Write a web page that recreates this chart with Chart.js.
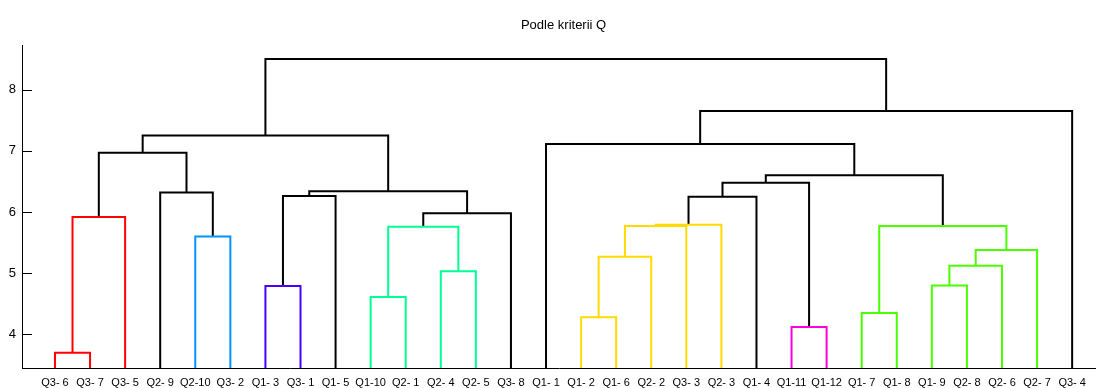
<!DOCTYPE html>
<html><head><meta charset="utf-8">
<script src="https://cdn.jsdelivr.net/npm/chart.js@4.4.1/dist/chart.umd.min.js"></script>
<style>html,body{margin:0;padding:0;background:#fff;overflow:hidden}#wrap{width:1096px;height:388px;position:relative}</style>
</head><body><div id="wrap"><canvas id="c" width="1096" height="388"></canvas></div>
<script>
// ---- data ----
const leafLabels = ['Q3- 6','Q3- 7','Q3- 5','Q2- 9','Q2-10','Q3- 2','Q1- 3','Q3- 1','Q1- 5','Q1-10','Q2- 1','Q2- 4','Q2- 5','Q3- 8','Q1- 1','Q1- 2','Q1- 6','Q2- 2','Q3- 3','Q2- 3','Q1- 4','Q1-11','Q1-12','Q1- 7','Q1- 8','Q1- 9','Q2- 8','Q2- 6','Q2- 7','Q3- 4'];
// linkage: node ids 0..29 are leaves, merge k creates node 30+k
const mergeLeft   = [0,30,4,3,31,6,35,9,11,37,39,36,34,15,43,44,45,46,21,47,23,25,51,52,50,49,14,56,42];
const mergeRight  = [1,2,5,32,33,7,8,10,12,38,13,40,41,16,17,18,19,20,22,48,24,26,27,28,53,54,55,29,57];
const mergeHeight = [3.70,5.92,5.60,6.32,6.97,4.79,6.26,4.61,5.03,5.76,5.98,6.34,7.25,4.28,5.27,5.77,5.79,6.25,4.12,6.48,4.35,4.80,5.12,5.38,5.77,6.60,7.11,7.65,8.50];
const mergeCluster = [0,0,4,-1,-1,5,-1,3,3,3,-1,-1,-1,1,1,1,1,-1,6,-1,2,2,2,2,2,-1,-1,-1,-1];
const yTicks = [4,5,6,7,8];
const chartTitle = 'Podle kriterii Q';

// ---- style ----
const palette = ['#ff0000','#ffdb00','#49ff00','#00ff92','#0092ff','#4900ff','#ff00db'];
const FONT = "'Liberation Sans Narrow','Arial Narrow','Liberation Sans',Arial,sans-serif";
const Y_MIN = 3.45, Y_MAX = 8.73, X_MIN = -0.94, X_MAX = 29.68;

const nLeaf = leafLabels.length;
const nodeX = [], nodeY = [];
for (let i = 0; i < nLeaf; i++) { nodeX.push(i); nodeY.push(Y_MIN); }
const datasets = [];
for (let k = 0; k < mergeLeft.length; k++) {
  const a = mergeLeft[k], b = mergeRight[k], h = mergeHeight[k];
  datasets.push({
    data: [{x: nodeX[a], y: nodeY[a]}, {x: nodeX[a], y: h}, {x: nodeX[b], y: h}, {x: nodeX[b], y: nodeY[b]}],
    borderColor: mergeCluster[k] >= 0 ? palette[mergeCluster[k]] : '#000000',
    borderWidth: 2, pointRadius: 0, showLine: true, fill: false, tension: 0,
    borderJoinStyle: 'miter', borderCapStyle: 'butt'
  });
  nodeX.push((nodeX[a] + nodeX[b]) / 2);
  nodeY.push(h);
}

const extras = {
  id: 'extras',
  afterDraw(chart) {
    const ctx = chart.ctx, ca = chart.chartArea, ys = chart.scales.y, xs = chart.scales.x;
    ctx.save();
    ctx.strokeStyle = '#000'; ctx.lineWidth = 1;
    yTicks.forEach(v => {
      const py = Math.round(ys.getPixelForValue(v)) + 0.5;
      ctx.beginPath(); ctx.moveTo(ca.left, py); ctx.lineTo(ca.left + 10, py); ctx.stroke();
    });
    ctx.fillStyle = '#000';
    ctx.font = '13px ' + FONT;
    ctx.textAlign = 'center'; ctx.textBaseline = 'middle';
    ctx.fillText(chartTitle, xs.getPixelForValue((nLeaf - 1) / 2), 25);
    ctx.restore();
  }
};

new Chart(document.getElementById('c'), {
  type: 'scatter',
  data: { datasets },
  options: {
    responsive: false, animation: false,
    layout: { padding: { top: 45, left: 0, right: 0, bottom: 0 } },
    plugins: { legend: { display: false }, tooltip: { enabled: false }, title: { display: false } },
    scales: {
      x: {
        type: 'linear', min: X_MIN, max: X_MAX,
        afterBuildTicks: s => { s.ticks = leafLabels.map((_, i) => ({ value: i })); },
        afterFit: s => { s.height = 20; },
        grid: { display: false, drawTicks: false },
        border: { display: true, color: '#000', width: 1 },
        ticks: { autoSkip: false, maxRotation: 0, minRotation: 0, padding: 8, color: '#000',
                 font: { family: FONT, size: 11 }, callback: v => leafLabels[v] }
      },
      y: {
        type: 'linear', min: Y_MIN, max: Y_MAX,
        afterBuildTicks: s => { s.ticks = yTicks.map(v => ({ value: v })); },
        afterFit: s => { s.width = 22; },
        grid: { display: false, drawTicks: false },
        border: { display: true, color: '#000', width: 1 },
        ticks: { padding: 6, color: '#000', font: { family: FONT, size: 13 } }
      }
    }
  },
  plugins: [extras]
});
</script></body></html>
